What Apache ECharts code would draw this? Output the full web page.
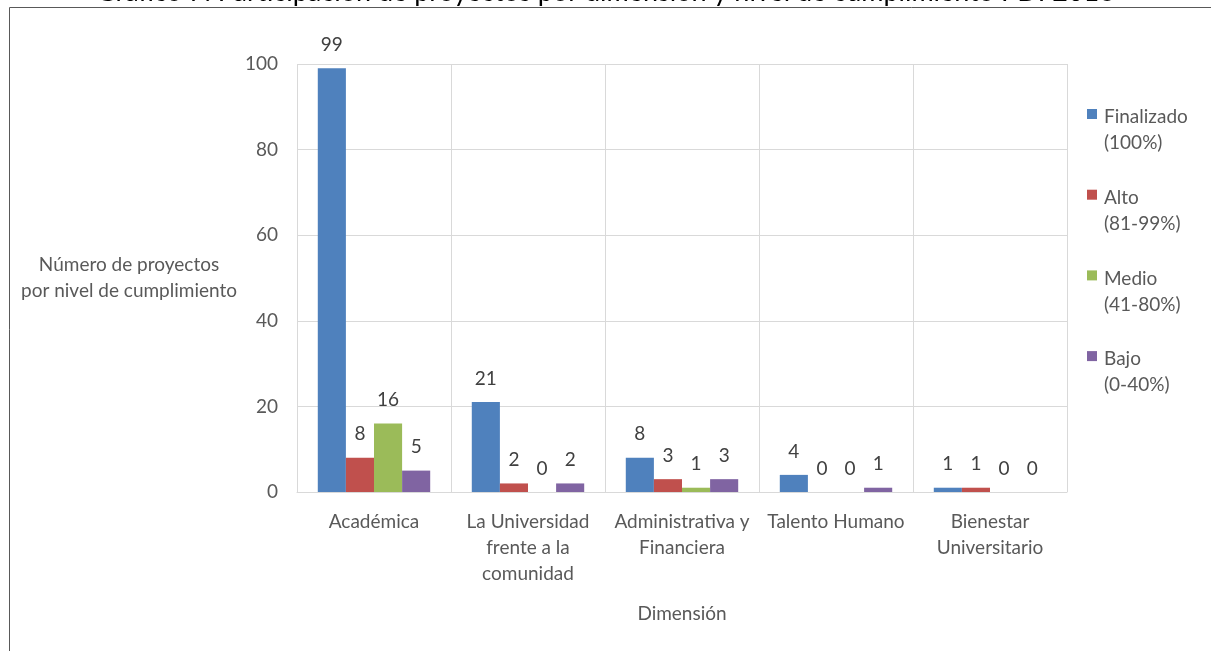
<!DOCTYPE html>
<html><head><meta charset="utf-8">
<script src="https://cdn.jsdelivr.net/npm/echarts@6/dist/echarts.min.js"></script>
<style>html,body{margin:0;padding:0;background:#fff}#c{width:1211px;height:651px}</style>
</head><body><div id="c"></div>
<script>
var categories = ['Académica', 'La Universidad\nfrente a la\ncomunidad', 'Administrativa y\nFinanciera', 'Talento Humano', 'Bienestar\nUniversitario'];
var seriesNames = ['Finalizado (100%)', 'Alto (81-99%)', 'Medio (41-80%)', 'Bajo (0-40%)'];
var legendLine1 = ['Finalizado', 'Alto', 'Medio', 'Bajo'];
var legendLine2 = ['(100%)', '(81-99%)', '(41-80%)', '(0-40%)'];
var finalizado = [99, 21, 8, 4, 1];
var alto = [8, 2, 3, 0, 1];
var medio = [16, 0, 1, 0, 0];
var bajo = [5, 2, 3, 1, 0];
var colors = ['#4F81BD', '#C0504D', '#9BBB59', '#8064A2'];
var yTicks = [0, 20, 40, 60, 80, 100];

var FONT = 'Lato';
var TXT = '#595959';
var FS = 19;
var values = [finalizado, alto, medio, bajo];
var series = values.map(function (v, i) {
  return {
    name: seriesNames[i], type: 'bar', data: v, barGap: '0%', barCategoryGap: '27%',
    itemStyle: { color: colors[i] },
    label: { show: true, position: 'top', distance: 14, color: '#404040', fontFamily: FONT, fontSize: FS }
  };
});
var graphics = [
  { type: 'rect', shape: { x: 9.5, y: 7.5, width: 1300, height: 700 }, style: { fill: 'none', stroke: '#595959', lineWidth: 1 }, silent: true },
  { type: 'text', left: 'center', top: -21, style: { text: 'Gráfico 7. Participación de proyectos por dimensión y nivel de cumplimiento PDI 2016', font: '27px Lato', fill: '#000' } }
];
legendLine1.forEach(function (t, i) {
  var y = 104 + i * 80.7;
  graphics.push({ type: 'rect', shape: { x: 1087, y: y + 5, width: 10, height: 10 }, style: { fill: colors[i] } });
  graphics.push({ type: 'text', x: 1104, y: y, style: { text: t + '\n' + legendLine2[i], font: FS + 'px Lato', fill: TXT, lineHeight: 26 } });
});
var chart = echarts.init(document.getElementById('c'));
chart.setOption({
  animation: false,
  color: colors,
  grid: { left: 297, right: 144, top: 64, bottom: 159 },
  xAxis: {
    type: 'category', data: categories,
    name: 'Dimensión', nameLocation: 'middle', nameGap: 112,
    nameTextStyle: { color: TXT, fontFamily: FONT, fontSize: FS },
    axisLine: { lineStyle: { color: '#D9D9D9' } },
    axisTick: { show: false },
    axisLabel: { color: TXT, fontFamily: FONT, fontSize: FS, lineHeight: 26, margin: 17, interval: 0 },
    splitLine: { show: true, lineStyle: { color: '#D9D9D9' } }
  },
  yAxis: {
    type: 'value', min: yTicks[0], max: yTicks[yTicks.length - 1], interval: 20,
    name: 'Número de proyectos\npor nivel de cumplimiento', nameLocation: 'middle', nameRotate: 0, nameGap: 168,
    nameTextStyle: { color: TXT, fontFamily: FONT, fontSize: FS, lineHeight: 26, align: 'center' },
    axisLine: { show: false }, axisTick: { show: false },
    axisLabel: { color: TXT, fontFamily: FONT, fontSize: FS, margin: 19 },
    splitLine: { lineStyle: { color: '#D9D9D9' } }
  },
  series: series,
  graphic: graphics
});
</script></body></html>
